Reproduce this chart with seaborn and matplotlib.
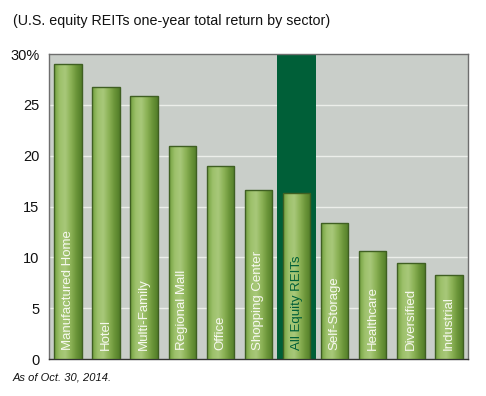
import numpy as np
import pandas as pd
import seaborn as sns
import matplotlib.pyplot as plt
from matplotlib.colors import LinearSegmentedColormap

# data
sectors = ["Manufactured Home", "Hotel", "Multi-Family", "Regional Mall", "Office",
           "Shopping Center", "All Equity REITs", "Self-Storage", "Healthcare",
           "Diversified", "Industrial"]
returns = [29.0, 26.8, 25.9, 21.0, 19.0, 16.6, 16.3, 13.4, 10.6, 9.4, 8.3]
highlight = "All Equity REITs"
yticks = [0, 5, 10, 15, 20, 25, 30]
ytick_labels = ["0", "5", "10", "15", "20", "25", "30%"]

df = pd.DataFrame({"sector": sectors, "ret": returns})

sns.set_style("white")
plt.rcParams["font.family"] = ["Liberation Sans", "DejaVu Sans"]

bg = "#c9cec9"
dark_green = "#005f38"
edge = "#3f5f22"

fig = plt.figure(figsize=(4.86, 3.96), dpi=100)
ax = fig.add_axes([0.1008, 0.0934, 0.862, 0.770])
ax.set_facecolor(bg)

sns.barplot(data=df, x="sector", y="ret", order=sectors, width=0.72,
            color="#7ea64a", edgecolor=edge, linewidth=1.0, ax=ax, zorder=3)
bars = list(ax.patches)

# gradient fill on each bar
grad = LinearSegmentedColormap.from_list(
    "bar", ["#72a03e", "#9dc16b", "#a8c87a", "#8db357", "#6c963a", "#527d28"])
gimg = np.linspace(0, 1, 64).reshape(1, -1)
for p in bars:
    x0, y0 = p.get_x(), p.get_y()
    w, h = p.get_width(), p.get_height()
    im = ax.imshow(gimg, cmap=grad, aspect="auto", extent=(x0, x0 + w, y0, y0 + h),
                   zorder=3.5, interpolation="bilinear")
    im.set_clip_path(p)
    p.set_facecolor("none")
    p.set_zorder(4)

ax.set_xlim(-0.5, len(sectors) - 0.5)
ax.set_ylim(0, 30)

# highlight column
hi = sectors.index(highlight)
ax.axvspan(hi - 0.5, hi + 0.5, color=dark_green, zorder=1, lw=0)

# grid
for y in yticks[1:-1]:
    ax.axhline(y, color="#eceeea", lw=1, zorder=0.8)

# bar labels
for i, (name, val) in enumerate(zip(sectors, returns)):
    ax.text(i, 0.9, name, rotation=90, ha="center", va="bottom",
            color=dark_green if name == highlight else "#f6f8ee",
            fontsize=9.5, zorder=5)

ax.set_yticks(yticks)
ax.set_yticklabels(ytick_labels, fontsize=10.5, color="#111111")
ax.tick_params(axis="y", length=0, pad=7)
ax.set_xticks(np.arange(0.5, len(sectors) - 0.5, 1))
ax.set_xticklabels([])
ax.tick_params(axis="x", direction="in", length=6, width=1, color="#333333")
ax.set_xlabel("")
ax.set_ylabel("")

for s in ax.spines.values():
    s.set_color("#6e6e6e")
    s.set_linewidth(1)
    s.set_visible(True)
ax.spines["bottom"].set_color("#333333")

fig.text(13 / 486, 1 - 21 / 396, "(U.S. equity REITs one-year total return by sector)",
         fontsize=10.3, va="center", ha="left", color="#111111")
fig.text(13 / 486, 1 - 378 / 396, "As of Oct. 30, 2014.", fontsize=8, style="italic",
         va="center", ha="left", color="#111111")

fig.savefig("out.png", dpi=100, facecolor="white")
